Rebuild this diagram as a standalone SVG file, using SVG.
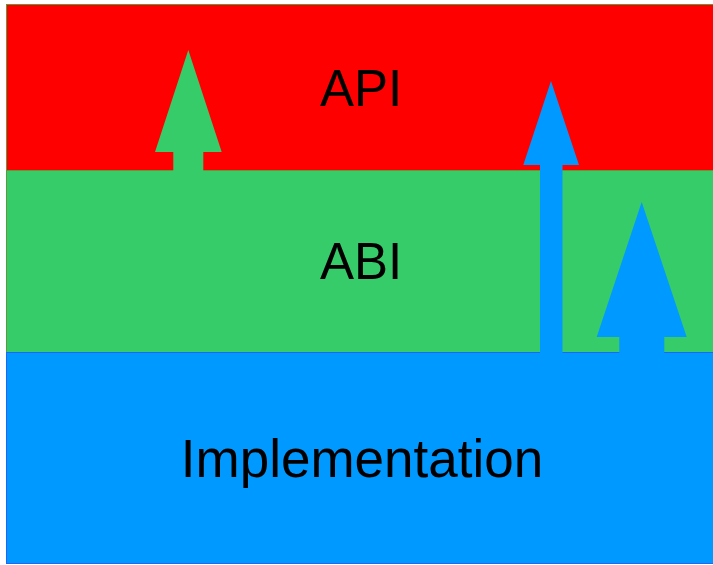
<svg xmlns="http://www.w3.org/2000/svg" width="713" height="565" viewBox="0 0 713 565">
<style>
.lbl{font-family:"Liberation Sans",Arial,sans-serif;fill:#000;text-anchor:middle}
</style>
<rect width="713" height="565" fill="#ffffff"/>
<g id="api">
<rect x="6.5" y="4.5" width="710" height="166" fill="#ff0000" stroke="#5f9a3a" stroke-width="1"/>
<text class="lbl" x="361" y="106" font-size="51">API</text>
</g>
<g id="abi">
<rect x="6.5" y="170.5" width="710" height="182" fill="#36cc6a" stroke="#5f9a3a" stroke-width="1"/>
<text class="lbl" x="361" y="279" font-size="51">ABI</text>
</g>
<g id="implementation">
<rect x="6.5" y="352.5" width="710" height="211" fill="#0099ff" stroke="#1a66ff" stroke-width="1"/>
<text class="lbl" x="362" y="477" font-size="53">Implementation</text>
</g>
<g id="connectors">
<polygon points="188.3,50 221.7,152 203.3,152 203.3,171 173.3,171 173.3,152 155,152" fill="#36cc6a"/>
<polygon points="551,81 579,165 562.5,165 562.5,353 540,353 540,165 523.3,165" fill="#0099ff"/>
<polygon points="641.7,202 686.7,337 664.3,337 664.3,353 619.3,353 619.3,337 596.7,337" fill="#0099ff"/>
</g>
</svg>
